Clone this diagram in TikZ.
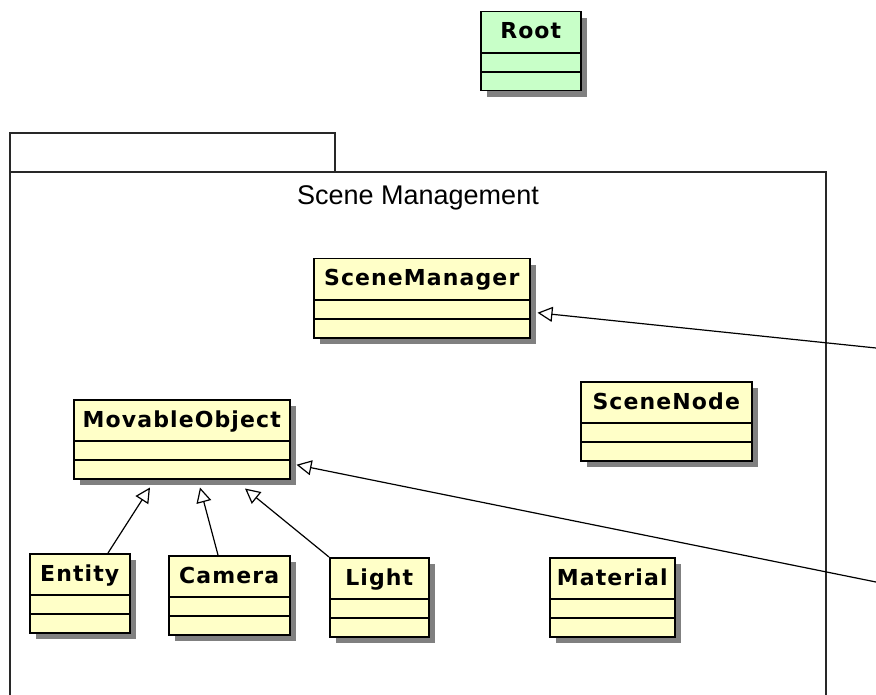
\documentclass[tikz,border=0pt]{standalone}
\usepackage{fontspec}
\setmainfont{Liberation Sans}
\newfontfamily\clsfont[LetterSpace=5]{DejaVu Sans}
\usetikzlibrary{arrows.meta,shadows,calc}
\definecolor{clsyellow}{RGB}{255,255,200}
\definecolor{clsgreen}{RGB}{200,255,200}
\definecolor{pkgline}{RGB}{40,40,40}

% one UML class: #1 fill, #2 name, #3 x, #4 y (top left), #5 width, #6 label
\newcommand{\umlclass}[6]{%
  \node[umlbox, fill=#1, minimum width=#5pt, anchor=north west] (#2) at (#3,#4) {};
  \node[clsname] (#2-title) at ($(#2.north)+(0,28)$) {#6};
  \draw[divider] ($(#2.north west)+(0,42)$) -- ($(#2.north east)+(0,42)$);
  \draw[divider] ($(#2.north west)+(0,61)$) -- ($(#2.north east)+(0,61)$);
}

\begin{document}
\begin{tikzpicture}[x=1pt,y=-1pt,
  umlbox/.style={draw=black, line width=1.5pt, minimum height=79pt, inner sep=0pt,
    drop shadow={shadow xshift=6pt, shadow yshift=-6pt, fill=black!50, opacity=1}},
  clsname/.style={anchor=base, inner sep=0pt, font=\clsfont\bfseries\fontsize{22}{26}\selectfont},
  divider/.style={line width=1.3pt},
  pkg/.style={draw=pkgline, line width=1.5pt},
  generalize/.style={draw=black, line width=1.2pt, -{Triangle[open, length=15pt, width=15pt]}}]
\useasboundingbox (0,0) rectangle (876,695);
\fill[white] (0,0) rectangle (876,695);

% package "Scene Management"
\draw[pkg] (10,172) rectangle (335,133);
\draw[pkg] (10,700) -- (10,172) -- (826,172) -- (826,700);
\node[anchor=base, inner sep=0pt, font=\fontsize{27}{32}\selectfont] (pkgname) at (418,205) {Scene Management};

% classes
\umlclass{clsgreen}{root}{480}{11}{100}{Root}
\umlclass{clsyellow}{sm}{313}{258}{216}{SceneManager}
\umlclass{clsyellow}{mo}{73}{399}{216}{MovableObject}
\umlclass{clsyellow}{sn}{580}{381}{171}{SceneNode}
\umlclass{clsyellow}{ent}{29}{553}{100}{Entity}
\umlclass{clsyellow}{cam}{168}{555}{121}{Camera}
\umlclass{clsyellow}{light}{329}{557}{99}{Light}
\umlclass{clsyellow}{mat}{549}{557}{125}{Material}

% free ends of the links leaving the package
\coordinate (out1) at (876,348);
\coordinate (out2) at (876,582);

% generalizations
\draw[generalize] ($(ent.north west)+(79,0)$) -- ($(mo.south west)+(77,8)$);
\draw[generalize] ($(cam.north west)+(50,0)$) -- ($(mo.south west)+(127,8)$);
\draw[generalize] (light.north west) -- ($(mo.south west)+(172,9)$);
\draw[generalize] (out1) -- ($(sm.east)+(7,14.5)$);
\draw[generalize] (out2) -- ($(mo.east)+(6,25.5)$);
\end{tikzpicture}
\end{document}
